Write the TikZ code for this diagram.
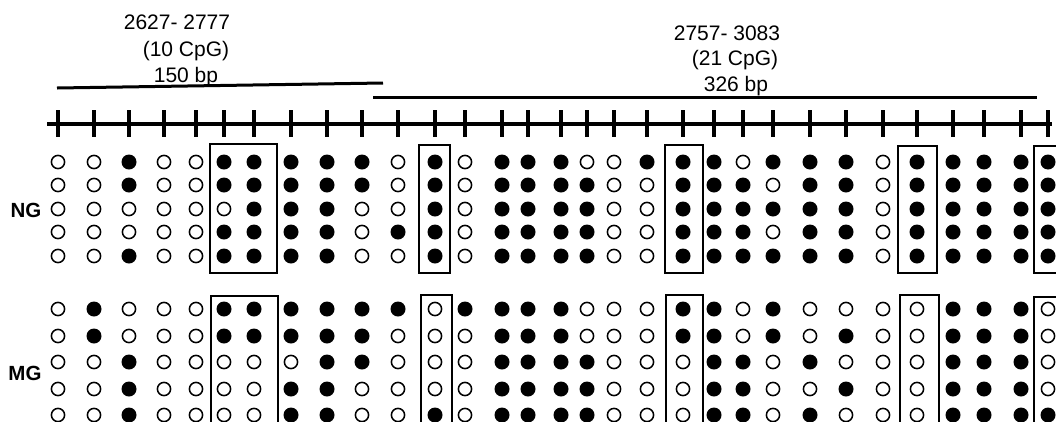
\documentclass[tikz,border=0pt]{standalone}
\usepackage{fontspec}
\setmainfont{Liberation Sans}

\begin{document}
\begin{tikzpicture}[x=1pt,y=-1pt,line width=3pt,
  lbl/.style={font=\fontsize{21}{25}\selectfont,anchor=base,inner sep=0pt},
  grp/.style={font=\fontsize{20.5}{24}\selectfont\bfseries,inner sep=0pt},
  cpgbox/.style={line width=1.6pt},
  dot0/.style={draw,line width=1.5pt,radius=6.6},
  dot1/.style={fill,radius=7.5}]
  \useasboundingbox (0,0) rectangle (1056,421);
  \clip (0,0) rectangle (1056,421);
  % amplicones
  \node[lbl] (ampAa) at (177,29) {2627- 2777};
  \node[lbl] (ampAb) at (186,56) {(10 CpG)};
  \node[lbl] (ampAc) at (186,82) {150 bp};
  \node[lbl] (ampBa) at (727,40) {2757- 3083};
  \node[lbl] (ampBb) at (735,65) {(21 CpG)};
  \node[lbl] (ampBc) at (736,91) {326 bp};
  \draw (57,88) -- (383,83);
  \draw (373,97) -- (1037,97);
  % eje con los CpG
  \def\colx{58,94,129,164,196,224,254,291,327,362,398,435,465,502,528,561,587,614,647,683,714,743,773,810,846,883,917,953,984,1021,1048}
  \draw[line width=3.5pt] (47,124) -- (1052,124);
  \foreach \x in \colx \draw[line width=3.5pt] (\x,110) -- (\x,137);
  % grupos
  \node[grp] (ng) at (26,210) {NG};
  \node[grp] (mg) at (25,373) {MG};
  % sitios CpG (0 = no metilado, 1 = metilado)
  \foreach \y/\vals in {
    162/{0,0,1,0,0,1,1,1,1,1,0,1,0,1,1,1,0,0,1,1,1,0,1,1,1,0,1,1,1,1,1},
    185/{0,0,1,0,0,1,1,1,1,1,0,1,0,1,1,1,1,0,0,1,1,1,0,1,1,0,1,1,1,1,1},
    209/{0,0,0,0,0,0,1,1,1,0,0,1,0,1,1,1,1,0,0,1,1,1,1,1,1,0,1,1,1,1,1},
    232/{0,0,0,0,0,1,1,1,1,0,1,1,0,1,1,1,1,0,0,1,1,1,0,1,1,0,1,1,1,1,1},
    256/{0,0,1,0,0,1,1,1,1,0,0,1,0,1,1,1,1,0,0,1,1,1,1,1,1,0,1,1,1,1,1},
    309/{0,1,0,0,0,1,1,1,1,1,1,0,1,1,1,1,0,0,0,1,1,0,1,0,0,0,0,1,1,1,0},
    336/{0,1,0,0,0,1,1,1,1,1,0,0,0,1,1,1,0,0,0,1,1,0,1,0,1,0,0,1,1,1,0},
    362/{0,0,1,0,0,0,0,0,1,1,0,0,0,1,1,1,1,0,0,0,1,1,0,1,0,0,0,1,1,1,0},
    389/{0,0,1,0,0,0,0,1,1,0,0,0,0,1,1,1,1,0,0,0,1,1,0,0,1,0,0,1,1,1,0},
    415/{0,0,1,0,0,0,0,1,1,0,0,1,0,1,1,1,1,0,0,0,1,1,0,1,0,0,0,1,1,1,1}}
    \foreach \v [count=\c] in \vals {
      \pgfmathsetmacro\xx{{\colx}[\c-1]}
      \path[dot\v] (\xx,\y) circle;
    }
  % recuadros
  \draw[cpgbox] (210,144) rectangle (277,273);
  \draw[cpgbox] (419,145) rectangle (450,273);
  \draw[cpgbox] (665,145) rectangle (703,273);
  \draw[cpgbox] (898,146) rectangle (937,273);
  \draw[cpgbox] (1034,146) rectangle (1062,273);
  \draw[cpgbox] (211,296) rectangle (278,430);
  \draw[cpgbox] (421,295) rectangle (452,430);
  \draw[cpgbox] (666,295) rectangle (703,430);
  \draw[cpgbox] (900,295) rectangle (939,430);
  \draw[cpgbox] (1034,297) rectangle (1062,430);
\end{tikzpicture}
\end{document}
